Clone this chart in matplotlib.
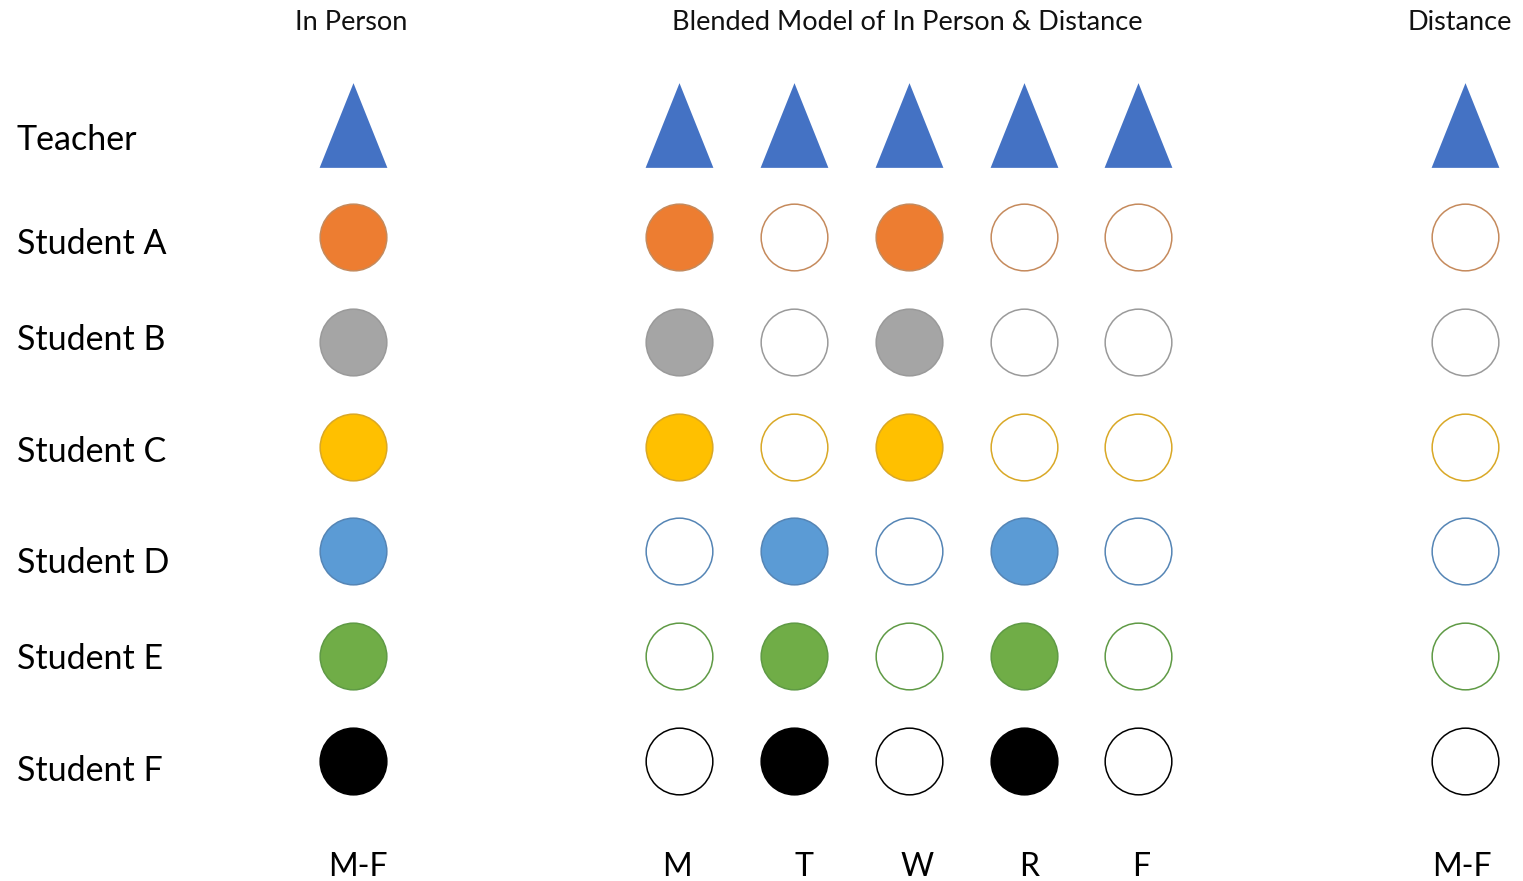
import matplotlib.pyplot as plt
from matplotlib.path import Path

# data
day_labels = ['M-F', 'M', 'T', 'W', 'R', 'F', 'M-F']
group_titles = ['In Person', 'Blended Model of In Person & Distance', 'Distance']
people = ['Teacher', 'Student A', 'Student B', 'Student C', 'Student D', 'Student E', 'Student F']
# 1 = in person that day, 0 = distance
teacher_days = [1, 1, 1, 1, 1, 1, 1]
group1_days = [1, 1, 0, 1, 0, 0, 0]   # students A, B, C
group2_days = [1, 0, 1, 0, 1, 0, 0]   # students D, E, F
student_days = [group1_days, group1_days, group1_days,
                group2_days, group2_days, group2_days]

# layout (pixel units of the 1523x881 canvas)
col_x = [353, 679, 794, 909, 1024, 1138, 1465]
day_label_x = [358, 677, 804, 917, 1029, 1141, 1462]
row_y = [125, 237, 342, 447, 551, 656, 761]
label_y = [140, 244, 340, 452, 563, 659, 771]
title_x = [351, 907, 1460]

fill_colors = ['#ED7D31', '#A5A5A5', '#FFC000', '#5B9BD5', '#70AD47', '#000000']
edge_colors = ['#C58A5C', '#9A9A9A', '#D9A826', '#5585B5', '#5F9A45', '#000000']
teacher_color = '#4472C4'

plt.rcParams['font.family'] = ['Lato', 'DejaVu Sans']

fig = plt.figure(figsize=(15.23, 8.81), dpi=100)
ax = fig.add_axes([0, 0, 1, 1])
ax.set_xlim(0, 1523)
ax.set_ylim(881, 0)
ax.axis('off')

tri = Path([(0, 1), (-0.8, -1), (0.8, -1), (0, 1)],
           [Path.MOVETO, Path.LINETO, Path.LINETO, Path.CLOSEPOLY])

# teacher row
for x, present in zip(col_x, teacher_days):
    ax.plot(x, row_y[0], marker=tri, markersize=61, color=teacher_color,
            markeredgewidth=0, linestyle='none')

# student rows
for i, days in enumerate(student_days):
    y = row_y[i + 1]
    for x, present in zip(col_x, days):
        face = fill_colors[i] if present else 'white'
        ax.plot(x, y, marker='o', markersize=48, markerfacecolor=face,
                markeredgecolor=edge_colors[i], markeredgewidth=1.1,
                linestyle='none')

# row labels
for name, y in zip(people, label_y):
    ax.text(17, y, name, fontsize=24.5, ha='left', va='center', color='black')

# group headers
for title, x in zip(group_titles, title_x):
    ax.text(x, 30, title, fontsize=19.5, ha='center', va='baseline', color='#111111')

# day labels at the bottom
for lab, x in zip(day_labels, day_label_x):
    ax.text(x, 876, lab, fontsize=23, ha='center', va='baseline', color='black',
            fontstretch='condensed')

fig.savefig('out.png', dpi=100)
